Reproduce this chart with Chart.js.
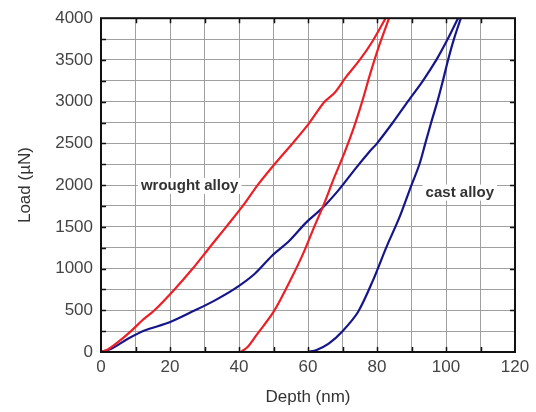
<!DOCTYPE html>
<html>
<head>
<meta charset="utf-8">
<script src="https://cdn.jsdelivr.net/npm/chart.js@4"></script>
<style>
  html, body { margin: 0; padding: 0; background: #fff; }
  #wrap { width: 536px; height: 412px; }
</style>
</head>
<body>
<div id="wrap"><canvas id="chart"></canvas></div>
<script>
// wrought alloy (red)
const wroughtLoadDepth = [0, 2, 5, 8.7, 12, 15.5, 21.3, 26.6, 31.4, 36.3, 41.1, 45.4, 50.3, 55.3, 60.3, 64.6, 67.8, 71.1, 75, 78.8, 82.5];
const wroughtLoadForce = [0, 30, 120, 250, 380, 500, 750, 1000, 1250, 1500, 1750, 2000, 2250, 2490, 2740, 2990, 3110, 3300, 3500, 3730, 4000];
const wroughtUnloadDepth = [83.5, 80.7, 78, 75.7, 73.2, 70.5, 67.5, 64.5, 61.5, 58.5, 55, 50, 45, 42.5, 40.5];
const wroughtUnloadForce = [4000, 3680, 3330, 3000, 2680, 2380, 2080, 1760, 1470, 1170, 870, 480, 200, 60, 0];

// cast alloy (blue)
const castLoadDepth = [0, 3, 7.8, 12.6, 19.9, 27.1, 32.9, 38.7, 44.5, 49.5, 54.6, 59.5, 64.3, 69.1, 74, 77.8, 80, 84.6, 88.9, 93.3, 97.2, 100.5, 103.5];
const castLoadForce = [0, 40, 158, 257, 356, 496, 616, 756, 935, 1150, 1333, 1553, 1731, 1952, 2210, 2400, 2500, 2750, 3000, 3250, 3500, 3750, 4000];
const castUnloadDepth = [104.3, 102.3, 100.6, 99.1, 97.5, 95.7, 94, 92.3, 89.4, 86.5, 82.7, 78.8, 74.5, 70, 66, 62.5, 60];
const castUnloadForce = [4000, 3750, 3500, 3250, 3000, 2750, 2500, 2250, 1935, 1613, 1254, 855, 480, 250, 100, 25, 0];

const xTicks = [0, 20, 40, 60, 80, 100, 120];
const yTicks = [0, 500, 1000, 1500, 2000, 2500, 3000, 3500, 4000];

const RED = "rgb(235,32,38)";
const BLUE = "rgb(22,22,140)";
const FONT = "'Liberation Sans', Arial, sans-serif";

const pts = (xs, ys) => xs.map((x, i) => ({ x: x, y: ys[i] }));

const line = (data, color) => ({
    data: data,
    showLine: true,
    borderColor: color,
    borderWidth: 2.2,
    pointRadius: 0,
    tension: 0.3,
    fill: false,
});

// labels in data coords, frame and inward ticks
const decor = {
    id: "decor",
    afterDatasetsDraw(chart) {
        const { ctx, chartArea: a, scales } = chart;
        const xs = scales.x, ys = scales.y;
        ctx.save();
        ctx.strokeStyle = "#111";
        ctx.lineWidth = 1.5;
        ctx.beginPath();
        for (let v = 10; v < 120; v += 10) {
            const px = Math.round(xs.getPixelForValue(v)) + 0.5;
            ctx.moveTo(px, a.bottom); ctx.lineTo(px, a.bottom - 5);
            ctx.moveTo(px, a.top); ctx.lineTo(px, a.top + 5);
        }
        for (let v = 250; v < 4000; v += 250) {
            const py = Math.round(ys.getPixelForValue(v)) + 0.5;
            ctx.moveTo(a.left, py); ctx.lineTo(a.left + 5, py);
            if (v % 500 === 0) { ctx.moveTo(a.right, py); ctx.lineTo(a.right - 5, py); }
        }
        ctx.stroke();
        ctx.lineWidth = 2;
        ctx.strokeRect(a.left, a.top, a.right - a.left, a.bottom - a.top);

        ctx.font = "bold 15px " + FONT;
        ctx.textAlign = "center";
        ctx.textBaseline = "middle";
        const labels = [["wrought alloy", 25.7, 1990], ["cast alloy", 104, 1910]];
        labels.forEach(([t, x, y]) => {
            const px = xs.getPixelForValue(x), py = ys.getPixelForValue(y);
            const w = ctx.measureText(t).width;
            ctx.fillStyle = "#fff";
            ctx.fillRect(px - w / 2 - 3, py - 8, w + 6, 16);
            ctx.fillStyle = "#333";
            ctx.fillText(t, px, py);
        });
        ctx.restore();
    },
};

new Chart(document.getElementById("chart"), {
    type: "scatter",
    data: {
        datasets: [
            line(pts(wroughtLoadDepth, wroughtLoadForce), RED),
            line(pts(wroughtUnloadDepth, wroughtUnloadForce), RED),
            line(pts(castLoadDepth, castLoadForce), BLUE),
            line(pts(castUnloadDepth, castUnloadForce), BLUE),
        ],
    },
    options: {
        responsive: true,
        maintainAspectRatio: false,
        animation: false,
        layout: { padding: { left: 0, right: 21, top: 16, bottom: 0 } },
        plugins: { legend: { display: false }, tooltip: { enabled: false } },
        scales: {
            x: {
                min: 0,
                max: 120,
                afterFit: (s) => { s.height = 60; },
                afterBuildTicks: (s) => {
                    const t = [];
                    for (let v = 0; v <= 120; v += 10) t.push({ value: v });
                    s.ticks = t;
                },
                ticks: {
                    color: "#444",
                    font: { family: FONT, size: 17 },
                    padding: 5,
                    maxRotation: 0,
                    autoSkip: false,
                    callback: (v) => (xTicks.includes(v) ? v : ""),
                },
                grid: { color: "#a0a0a0", lineWidth: 1, drawTicks: false },
                border: { display: false },
                title: {
                    display: true,
                    text: "Depth (nm)",
                    color: "#333",
                    font: { family: FONT, size: 17 },
                    padding: { top: 8 },
                },
            },
            y: {
                min: 0,
                max: 4000,
                afterFit: (s) => { s.width = 101; },
                afterBuildTicks: (s) => {
                    const t = [];
                    for (let v = 0; v <= 4000; v += 250) t.push({ value: v });
                    s.ticks = t;
                },
                ticks: {
                    color: "#444",
                    font: { family: FONT, size: 17 },
                    padding: 8,
                    autoSkip: false,
                    callback: (v) => (yTicks.includes(v) ? v : ""),
                },
                grid: { color: "#a0a0a0", lineWidth: 1, drawTicks: false },
                border: { display: false },
                title: {
                    display: true,
                    text: "Load (\u00b5N)",
                    color: "#333",
                    font: { family: FONT, size: 17 },
                    padding: { top: 15, bottom: 0 },
                },
            },
        },
    },
    plugins: [decor],
});
</script>
</body>
</html>
